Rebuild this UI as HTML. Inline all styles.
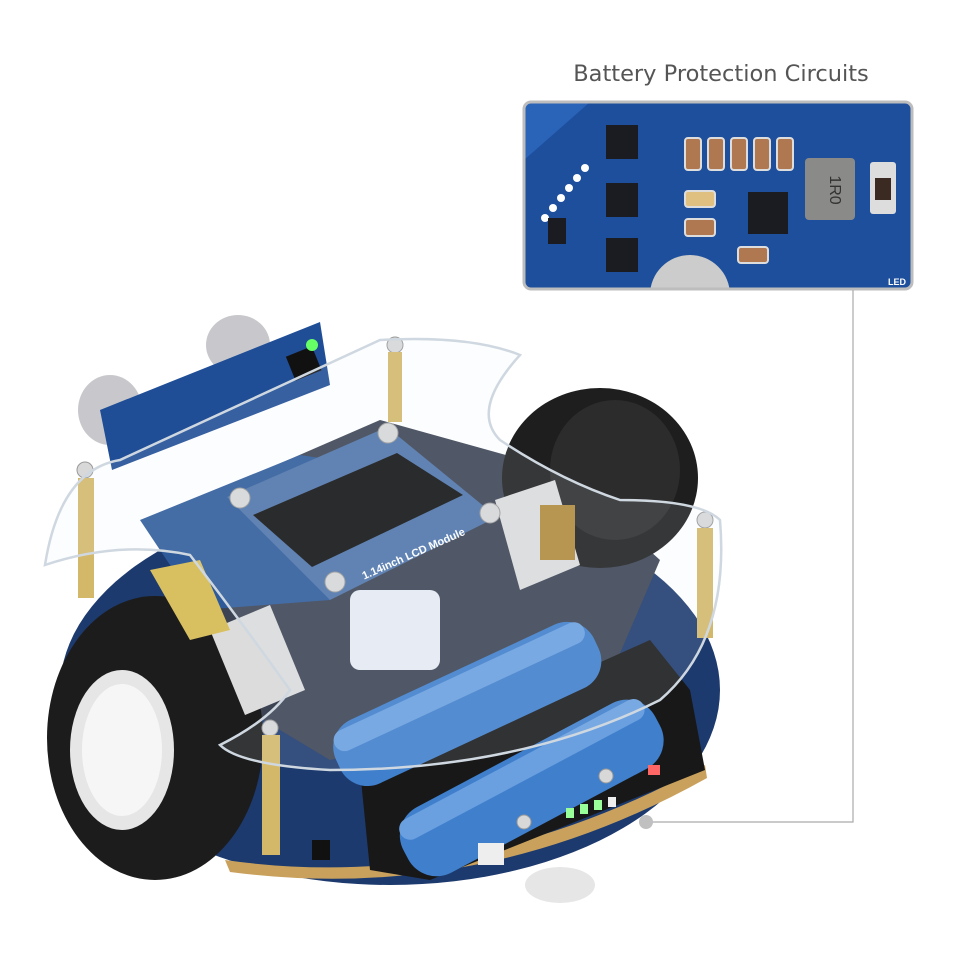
<!DOCTYPE html>
<html><head><meta charset="utf-8"><style>
html,body{margin:0;padding:0;background:#fff;}
svg{display:block}
</style></head><body>
<svg width="960" height="962" viewBox="0 0 960 962" xmlns="http://www.w3.org/2000/svg">
<rect width="960" height="962" fill="#fff"/>
<text x="721" y="81" text-anchor="middle" font-family="DejaVu Sans, Liberation Sans, sans-serif" font-size="22.5" fill="#555">Battery Protection Circuits</text>
<defs><clipPath id="c"><rect x="524" y="102" width="388" height="187" rx="7"/></clipPath></defs>
<g clip-path="url(#c)">
<rect x="524" y="102" width="388" height="187" fill="#1d4f9c"/>
<polygon points="524,102 590,102 524,160" fill="#2a64b8"/>
<g fill="#fff"><circle cx="585" cy="168" r="4"/><circle cx="577" cy="178" r="4"/><circle cx="569" cy="188" r="4"/><circle cx="561" cy="198" r="4"/><circle cx="553" cy="208" r="4"/><circle cx="545" cy="218" r="4"/></g>
<rect x="606" y="125" width="32" height="34" fill="#1b1b22"/>
<rect x="606" y="183" width="32" height="34" fill="#1b1b22"/>
<rect x="606" y="238" width="32" height="34" fill="#1b1b22"/>
<rect x="748" y="192" width="40" height="42" fill="#1b1b22"/>
<rect x="548" y="218" width="18" height="26" fill="#1b1b22"/>
<g fill="#b07850" stroke="#ddd" stroke-width="2"><rect x="685" y="138" width="16" height="32" rx="3"/><rect x="708" y="138" width="16" height="32" rx="3"/><rect x="731" y="138" width="16" height="32" rx="3"/><rect x="754" y="138" width="16" height="32" rx="3"/><rect x="777" y="138" width="16" height="32" rx="3"/><rect x="685" y="219" width="30" height="17" rx="3"/><rect x="738" y="247" width="30" height="16" rx="3"/></g>
<rect x="685" y="191" width="30" height="16" rx="3" fill="#e0c080" stroke="#ddd" stroke-width="2"/>
<rect x="805" y="158" width="50" height="62" rx="4" fill="#8a8a88"/>
<text x="830" y="190" font-family="Liberation Sans,sans-serif" font-size="16" fill="#333" text-anchor="middle" transform="rotate(90 830 190)">1R0</text>
<rect x="870" y="162" width="26" height="52" rx="3" fill="#ddd"/><rect x="875" y="178" width="16" height="22" fill="#3a2a22"/>
<circle cx="690" cy="295" r="40" fill="#ccc"/>
<text x="897" y="285" font-family="Liberation Sans,sans-serif" font-size="9" font-weight="bold" fill="#fff" text-anchor="middle">LED</text>
</g>
<rect x="524" y="102" width="388" height="187" rx="7" fill="none" stroke="#bdbdbd" stroke-width="3"/>
<polyline points="853,290 853,822 648,822" fill="none" stroke="#aaa" stroke-width="1.2"/>
<circle cx="646" cy="822" r="7" fill="#c0c0c0"/>
<ellipse cx="390" cy="690" rx="330" ry="195" fill="#1d3a6e"/>
<path d="M225 860 Q470 895 705 765 L707 778 Q480 905 230 872Z" fill="#c9a15c"/>
<polygon points="150,520 380,420 560,470 660,560 600,700 330,760 230,700" fill="#3c4352"/>
<ellipse cx="600" cy="478" rx="98" ry="90" fill="#1e1e1e"/>
<ellipse cx="615" cy="470" rx="65" ry="70" fill="#2c2c2c"/>
<ellipse cx="155" cy="738" rx="108" ry="142" fill="#1c1c1c"/>
<ellipse cx="122" cy="750" rx="52" ry="80" fill="#e6e6e6"/>
<ellipse cx="122" cy="750" rx="40" ry="66" fill="#f6f6f6"/>
<polygon points="210,630 270,605 305,690 245,715" fill="#dcdcdc"/>
<polygon points="495,500 555,480 580,565 520,590" fill="#dcdcdc"/>
<rect x="540" y="505" width="35" height="55" fill="#b08a3a"/>
<polygon points="360,770 650,640 690,690 705,770 430,880 370,870" fill="#181818"/>
<g transform="rotate(-25 465 705)"><rect x="325" y="670" width="285" height="70" rx="30" fill="#3f7fcc"/><rect x="330" y="675" width="275" height="22" rx="11" fill="#6aa0e0"/></g>
<g transform="rotate(-28 530 790)"><rect x="390" y="752" width="285" height="74" rx="32" fill="#3f7fcc"/><rect x="395" y="757" width="275" height="22" rx="11" fill="#6aa0e0"/></g>
<polygon points="140,520 300,455 400,470 330,600 200,610" fill="#2e5a9a"/>
<polygon points="150,570 200,560 230,630 190,640" fill="#d8c060"/>
<ellipse cx="110" cy="410" rx="32" ry="35" fill="#c8c8cc"/>
<ellipse cx="238" cy="345" rx="32" ry="30" fill="#c8c8cc"/>
<polygon points="100,410 320,322 330,385 112,470" fill="#1f4d96"/>
<rect x="290" y="352" width="28" height="26" fill="#111" transform="rotate(-22 300 365)"/>
<circle cx="312" cy="345" r="6" fill="#6f6"/>
<rect x="350" y="590" width="90" height="80" rx="10" fill="#e8ecf4"/>
<polygon points="227,497 387,427 497,517 330,600" fill="#4f75aa"/>
<polygon points="253,515 397,453 463,495 312,567" fill="#111"/>
<text x="415" y="557" font-family="Liberation Sans,sans-serif" font-size="11" font-weight="bold" fill="#fff" text-anchor="middle" transform="rotate(-24 415 557)">1.14inch LCD Module</text>
<g fill="#d8d8d8" stroke="#999"><circle cx="240" cy="498" r="10"/><circle cx="388" cy="433" r="10"/><circle cx="490" cy="513" r="10"/><circle cx="335" cy="582" r="10"/><circle cx="85" cy="470" r="8"/><circle cx="705" cy="520" r="8"/><circle cx="270" cy="728" r="8"/><circle cx="395" cy="345" r="8"/><circle cx="606" cy="776" r="7"/><circle cx="524" cy="822" r="7"/></g>
<g fill="#d4b86a"><rect x="78" y="478" width="16" height="120"/><rect x="388" y="352" width="14" height="70"/><rect x="697" y="528" width="16" height="110"/><rect x="262" y="735" width="18" height="120"/></g>
<path d="M45 565 Q60 470 120 460 L380 340 Q470 335 520 355 Q470 410 500 440 Q560 480 620 500 Q700 500 720 520 Q730 640 660 700 Q520 770 330 770 Q240 765 220 745 Q270 720 290 690 Q240 620 190 555 Q120 540 45 565Z" fill="#e8eef5" fill-opacity=".12" stroke="#cfd8e0" stroke-width="2.5"/>
<g fill="#9f9"><rect x="566" y="808" width="8" height="10"/><rect x="580" y="804" width="8" height="10"/><rect x="594" y="800" width="8" height="10"/></g>
<rect x="608" y="797" width="8" height="10" fill="#eee"/>
<rect x="648" y="765" width="12" height="10" fill="#f66"/>
<rect x="478" y="843" width="26" height="22" fill="#eee"/>
<rect x="312" y="840" width="18" height="20" fill="#111"/>
<ellipse cx="560" cy="885" rx="35" ry="18" fill="#e6e6e6"/>
</svg>
</body></html>
